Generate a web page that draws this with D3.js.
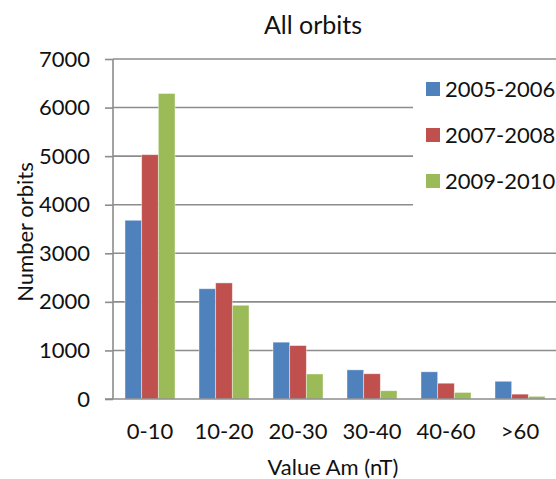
<!DOCTYPE html>
<html>
<head>
<meta charset="utf-8">
<script src="https://cdn.jsdelivr.net/npm/d3@7"></script>
<style>
  html, body { margin: 0; padding: 0; background: #fff; }
  svg { display: block; }
  text { font-family: Lato, "Open Sans", sans-serif; fill: #111; }
</style>
</head>
<body>
<svg id="chart" width="556" height="479"></svg>
<script>
const categories = ["0-10", "10-20", "20-30", "30-40", "40-60", ">60"];
const seriesNames = ["2005-2006", "2007-2008", "2009-2010"];
const values2005 = [3680, 2270, 1170, 600, 560, 365];
const values2007 = [5030, 2390, 1100, 520, 325, 100];
const values2009 = [6290, 1930, 515, 170, 135, 55];
const yTicks = [0, 1000, 2000, 3000, 4000, 5000, 6000, 7000];
const colors = ["#4F81BD", "#C0504D", "#9BBB59"];

const seriesValues = [values2005, values2007, values2009];
const svg = d3.select("#chart");

const pLeft = 113, pRight = 557, pTop = 59, pBottom = 399;
const x = d3.scaleBand().domain(categories).range([pLeft, pRight])
  .paddingInner(24 / 74).paddingOuter(12 / 74);
const xs = d3.scaleBand().domain(seriesNames).range([0, x.bandwidth()]);
const y = d3.scaleLinear().domain([0, 7000]).range([pBottom, pTop]);

// gridlines
svg.append("g").selectAll("line").data(yTicks.filter(d => d > 0)).join("line")
  .attr("x1", pLeft).attr("x2", pRight)
  .attr("y1", d => y(d)).attr("y2", d => y(d))
  .attr("stroke", "#8c8c8c").attr("stroke-width", 1.6);

// y axis
const yAxis = svg.append("g").attr("transform", `translate(${pLeft},0)`)
  .call(d3.axisLeft(y).tickValues(yTicks).tickSize(8).tickPadding(15).tickFormat(d3.format("d")));
yAxis.select(".domain").attr("stroke", "#8c8c8c").attr("stroke-width", 1.6).attr("d", `M0,${pTop}V${pBottom}`);
yAxis.selectAll(".tick line").attr("stroke", "#8c8c8c").attr("stroke-width", 1.6);
yAxis.selectAll(".tick text").style("font-size", "22px").attr("fill", "#111");

// bars
const groups = svg.append("g").selectAll("g").data(seriesNames).join("g")
  .attr("fill", (d, i) => colors[i]);
groups.selectAll("rect").data((s, i) => seriesValues[i].map((v, j) => ({ s, c: categories[j], v })))
  .join("rect")
  .attr("x", d => x(d.c) + xs(d.s))
  .attr("width", xs.bandwidth())
  .attr("y", d => y(d.v))
  .attr("height", d => y(0) - y(d.v))
  .attr("stroke", "rgba(255,255,255,0.5)").attr("stroke-width", 0.8);

// x axis
const xAxis = svg.append("g").attr("transform", `translate(0,${pBottom})`)
  .call(d3.axisBottom(x).tickSize(0).tickPadding(24));
xAxis.select(".domain").attr("stroke", "#8c8c8c").attr("stroke-width", 1.6).attr("d", `M${pLeft - 8},0H${pRight}`);
xAxis.selectAll(".tick text").style("font-size", "22px").attr("fill", "#111");

// title
svg.append("text").attr("x", 313).attr("y", 34).attr("text-anchor", "middle")
  .style("font-size", "25px").text("All orbits");

// axis titles
svg.append("text").attr("x", 333).attr("y", 475).attr("text-anchor", "middle")
  .style("font-size", "22px").text("Value Am (nT)");
svg.append("text").attr("transform", "translate(33,232) rotate(-90)").attr("text-anchor", "middle")
  .style("font-size", "22px").text("Number orbits");

// legend
const lg = svg.append("g");
lg.append("rect").attr("x", 413).attr("y", 66).attr("width", 143).attr("height", 160).attr("fill", "#fff");
const items = lg.selectAll("g.item").data(seriesNames).join("g")
  .attr("transform", (d, i) => `translate(426,${89 + i * 46})`);
items.append("rect").attr("x", 0).attr("y", -7).attr("width", 14).attr("height", 14)
  .attr("fill", (d, i) => colors[i]);
items.append("text").attr("x", 19).attr("y", 0).attr("dy", "0.36em")
  .style("font-size", "22px").text(d => d);
</script>
</body>
</html>
